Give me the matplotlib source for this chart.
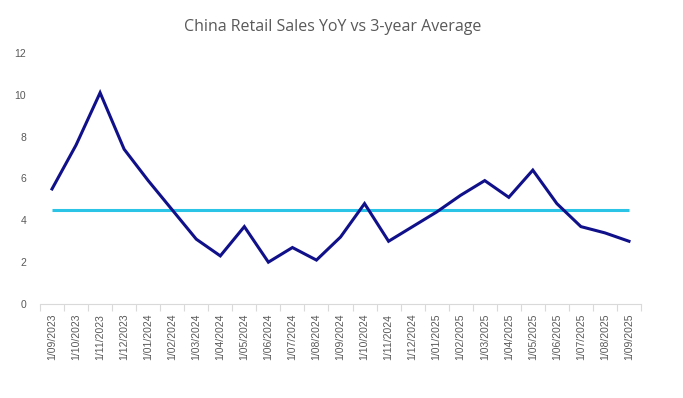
import numpy as np
import matplotlib.pyplot as plt

months = ['1/09/2023', '1/10/2023', '1/11/2023', '1/12/2023', '1/01/2024', '1/02/2024',
          '1/03/2024', '1/04/2024', '1/05/2024', '1/06/2024', '1/07/2024', '1/08/2024',
          '1/09/2024', '1/10/2024', '1/11/2024', '1/12/2024', '1/01/2025', '1/02/2025',
          '1/03/2025', '1/04/2025', '1/05/2025', '1/06/2025', '1/07/2025', '1/08/2025',
          '1/09/2025']
retail_yoy = [5.5, 7.6, 10.1, 7.4, 5.9, 4.5, 3.1, 2.3, 3.7, 2.0, 2.7, 2.1,
              3.2, 4.8, 3.0, 3.7, 4.4, 5.2, 5.9, 5.1, 6.4, 4.8, 3.7, 3.4, 3.0]
avg_3yr = [4.48] * len(months)

grey = '#595959'
plt.rcParams['font.family'] = 'Liberation Sans'
fig = plt.figure(figsize=(6.83, 3.98), dpi=100)
ax = fig.add_axes([40/683, 1-304/398, 601/683, 251/398])

x = np.arange(len(months))
ax.plot(x, avg_3yr, color='#2BC4E6', lw=2.2, solid_capstyle='butt')
ax.plot(x, retail_yoy, color='#10108A', lw=2.2, solid_joinstyle='miter')

ax.set_xlim(-0.5, len(months) - 0.5)
ax.set_ylim(0, 12)
ax.set_yticks(range(0, 13, 2))
ax.tick_params(axis='y', length=0, labelsize=7.5, labelcolor=grey, pad=10)
ax.set_xticks(x)
ax.set_xticklabels(months, rotation=90, fontsize=7.5, color=grey)
ax.tick_params(axis='x', which='major', length=0, pad=7)
ax.set_xticks(np.arange(-0.5, len(months), 1), minor=True)
ax.tick_params(axis='x', which='minor', length=5, color='#D9D9D9', width=0.8)

for s in ['top', 'right', 'left']:
    ax.spines[s].set_visible(False)
ax.spines['bottom'].set_color('#D9D9D9')
ax.spines['bottom'].set_linewidth(0.8)

fig.text(333/683, 1-27/398, 'China Retail Sales YoY vs 3-year Average', ha='center', va='center',
         fontsize=11.5, color=grey, family='Open Sans')

fig.savefig('out.png', dpi=100)
